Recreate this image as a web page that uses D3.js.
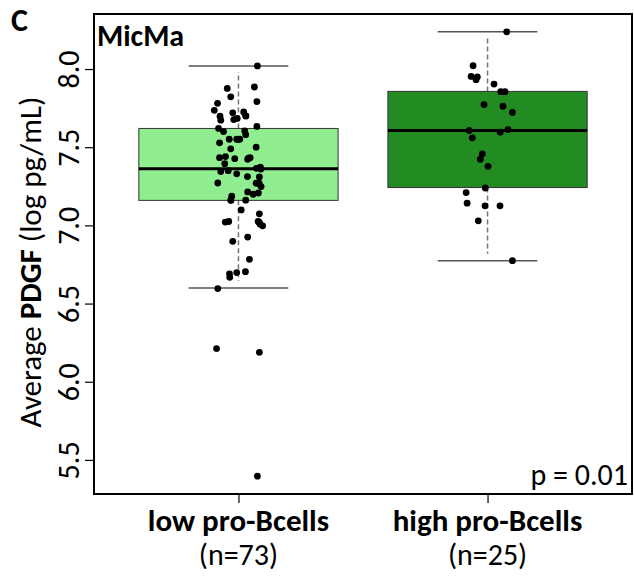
<!DOCTYPE html>
<html>
<head>
<meta charset="utf-8">
<script src="https://cdn.jsdelivr.net/npm/d3@7"></script>
<style>
  body { margin: 0; background: #fff; }
  text { font-family: Carlito, Lato, "Liberation Sans", sans-serif; fill: #000; }
</style>
</head>
<body>
<div id="container"></div>
<script>
// Groups and their labels
var groups = ["low pro-Bcells", "high pro-Bcells"];
var groupCounts = ["(n=73)", "(n=25)"];
var boxColors = ["#90ee90", "#228b22"];

// Box statistics
var q1 = [7.16, 7.242];
var medians = [7.363, 7.607];
var q3 = [7.62, 7.857];
var whiskerLow = [6.60, 6.774];
var whiskerHigh = [8.02, 8.238];

// Individual points of the low group (values and horizontal jitter in group units)
var lowValues = [8.02, 7.876, 7.885, 7.822, 7.781, 7.792, 7.736, 7.72, 7.726, 7.70,
  7.698, 7.673, 7.677, 7.684, 7.633, 7.62, 7.60, 7.605, 7.58, 7.528,
  7.551, 7.551, 7.551, 7.50, 7.49, 7.433, 7.44, 7.427, 7.423, 7.433,
  7.395, 7.344, 7.35, 7.33, 7.312, 7.365, 7.373, 7.31, 7.271, 7.27,
  7.27, 7.248, 7.214, 7.199, 7.207, 7.187, 7.161, 7.161, 7.099, 7.074,
  7.021, 7.025, 7.025, 7.008, 6.997, 6.898, 6.925, 6.783, 6.704, 6.698,
  6.69, 6.668, 6.596, 6.212, 6.188, 5.396,
  7.55, 7.36, 7.27, 7.70, 7.43, 7.16, 7.02];
var lowJitter = [0.076, -0.045, 0.064, -0.031, -0.084, 0.074, -0.097, -0.023, 0.021, 0.029,
  -0.074, -0.071, -0.019, -0.005, 0.074, -0.080, -0.060, 0.025, 0.029, -0.076,
  -0.037, -0.007, 0.005, 0.071, -0.031, -0.076, -0.052, -0.015, 0.037, 0.047,
  -0.055, -0.071, -0.041, -0.007, 0.036, 0.072, 0.088, 0.084, -0.083, 0.071,
  0.083, 0.091, 0.037, 0.059, 0.080, -0.027, -0.031, 0.029, 0.011, 0.084,
  -0.053, -0.039, 0.079, 0.087, 0.097, -0.023, 0.037, 0.044, 0.028, -0.007,
  -0.036, -0.035, -0.083, -0.088, 0.084, 0.076,
  0.000, 0.090, 0.078, 0.030, 0.040, -0.030, 0.083];

// Individual points of the high group
var highValues = [8.238, 8.021, 7.953, 7.949, 7.932, 7.904, 7.855, 7.855, 7.773, 7.762,
  7.722, 7.607, 7.596, 7.613, 7.56, 7.457, 7.423, 7.378, 7.21, 7.239,
  7.142, 7.125, 7.125, 7.029, 6.774];
var highJitter = [0.077, -0.058, -0.066, -0.041, -0.046, 0.026, 0.053, 0.070, -0.014, 0.062,
  0.100, -0.074, 0.051, 0.082, -0.061, -0.021, -0.029, 0.002, -0.086, -0.009,
  -0.082, -0.010, 0.050, -0.037, 0.100];

var yTicks = [5.5, 6.0, 6.5, 7.0, 7.5, 8.0];

// Dimensions
var width = 634;
var height = 577;

var svg = d3.select("#container")
            .append("svg")
            .attr("width", width)
            .attr("height", height);

// Scales (R-style: groups at 1 and 2, 4% padding)
var xScale = d3.scaleLinear().domain([0.42, 2.58]).range([94, 632]);
var yScale = d3.scaleLinear().domain([5.282, 8.352]).range([494, 14]);

var boxHalf = 0.4, stapleHalf = 0.2;

var stats = groups.map(function(g, i) {
  return {i: i, pos: i + 1, q1: q1[i], med: medians[i], q3: q3[i], lo: whiskerLow[i], hi: whiskerHigh[i]};
});

// Whiskers (dashed)
svg.selectAll("whiskerUp").data(stats).enter().append("line")
   .attr("x1", function(d) { return xScale(d.pos); })
   .attr("x2", function(d) { return xScale(d.pos); })
   .attr("y1", function(d) { return yScale(d.q3); })
   .attr("y2", function(d) { return yScale(d.hi) + 6; })
   .attr("stroke", "#777").attr("stroke-width", 1.5).attr("stroke-dasharray", "5,3");

svg.selectAll("whiskerDown").data(stats).enter().append("line")
   .attr("x1", function(d) { return xScale(d.pos); })
   .attr("x2", function(d) { return xScale(d.pos); })
   .attr("y1", function(d) { return yScale(d.q1); })
   .attr("y2", function(d) { return yScale(d.lo) - 7; })
   .attr("stroke", "#777").attr("stroke-width", 1.5).attr("stroke-dasharray", "5,3");

// Staples
["lo", "hi"].forEach(function(k) {
  svg.selectAll("staple" + k).data(stats).enter().append("line")
     .attr("x1", function(d) { return xScale(d.pos - stapleHalf); })
     .attr("x2", function(d) { return xScale(d.pos + stapleHalf); })
     .attr("y1", function(d) { return yScale(d[k]); })
     .attr("y2", function(d) { return yScale(d[k]); })
     .attr("stroke", "#555").attr("stroke-width", 1.5);
});

// Boxes
svg.selectAll("box").data(stats).enter().append("rect")
   .attr("x", function(d) { return xScale(d.pos - boxHalf); })
   .attr("width", function(d) { return xScale(d.pos + boxHalf) - xScale(d.pos - boxHalf); })
   .attr("y", function(d) { return yScale(d.q3); })
   .attr("height", function(d) { return yScale(d.q1) - yScale(d.q3); })
   .attr("fill", function(d) { return boxColors[d.i]; })
   .attr("stroke", "#333").attr("stroke-width", 1);

// Medians
svg.selectAll("median").data(stats).enter().append("line")
   .attr("x1", function(d) { return xScale(d.pos - boxHalf); })
   .attr("x2", function(d) { return xScale(d.pos + boxHalf); })
   .attr("y1", function(d) { return yScale(d.med); })
   .attr("y2", function(d) { return yScale(d.med); })
   .attr("stroke", "#000").attr("stroke-width", 3);

// Points
var points = lowValues.map(function(v, i) { return {pos: 1 + lowJitter[i], v: v}; })
  .concat(highValues.map(function(v, i) { return {pos: 2 + highJitter[i], v: v}; }));

svg.selectAll("dot").data(points).enter().append("circle")
   .attr("cx", function(d) { return xScale(d.pos); })
   .attr("cy", function(d) { return yScale(d.v); })
   .attr("r", 3.4)
   .attr("fill", "#000");

// Plot frame
svg.append("rect")
   .attr("x", xScale(0.42)).attr("y", yScale(8.352))
   .attr("width", xScale(2.58) - xScale(0.42))
   .attr("height", yScale(5.282) - yScale(8.352))
   .attr("fill", "none").attr("stroke", "#000").attr("stroke-width", 2);

// Y axis with rotated labels
var yAxis = d3.axisLeft(yScale).tickValues(yTicks).tickSize(9).tickFormat(d3.format(".1f"));
var yg = svg.append("g").attr("transform", "translate(" + xScale(0.42) + ",0)").call(yAxis);
yg.select(".domain").remove();
yg.selectAll(".tick line").attr("stroke", "#000").attr("stroke-width", 1.2);
yg.selectAll(".tick text")
  .attr("x", 0).attr("y", -15).attr("dy", null)
  .attr("transform", "rotate(-90)")
  .attr("text-anchor", "middle")
  .style("font-size", "30px").style("font-family", null);

// X axis ticks and labels
var xAxis = d3.axisBottom(xScale).tickValues([1, 2]).tickSize(9).tickFormat("");
var xg = svg.append("g").attr("transform", "translate(0," + yScale(5.282) + ")").call(xAxis);
xg.select(".domain").remove();
xg.selectAll(".tick line").attr("stroke", "#000").attr("stroke-width", 1.2);

svg.selectAll("groupLabel").data(groups).enter().append("text")
   .attr("x", function(d, i) { return xScale(i + 1); })
   .attr("y", 531)
   .attr("text-anchor", "middle")
   .style("font-size", "31px").style("font-weight", "bold")
   .text(function(d) { return d; });

svg.selectAll("countLabel").data(groupCounts).enter().append("text")
   .attr("x", function(d, i) { return xScale(i + 1); })
   .attr("y", 565)
   .attr("text-anchor", "middle")
   .style("font-size", "30px")
   .text(function(d) { return d; });

// Y title
var yTitle = svg.append("text")
   .attr("transform", "translate(41,262) rotate(-90)")
   .attr("text-anchor", "middle")
   .style("font-size", "31px");
yTitle.append("tspan").text("Average ");
yTitle.append("tspan").style("font-weight", "bold").text("PDGF");
yTitle.append("tspan").text(" (log pg/mL)");

// Panel letter, panel name and p-value
svg.append("text").attr("x", 11).attr("y", 31)
   .style("font-size", "32px").style("font-weight", "bold").text("C");

svg.append("text").attr("x", 97).attr("y", 46)
   .style("font-size", "30px").style("font-weight", "bold").text("MicMa");

svg.append("text").attr("x", 628).attr("y", 485)
   .attr("text-anchor", "end")
   .style("font-size", "30px").text("p = 0.01");
</script>
</body>
</html>
